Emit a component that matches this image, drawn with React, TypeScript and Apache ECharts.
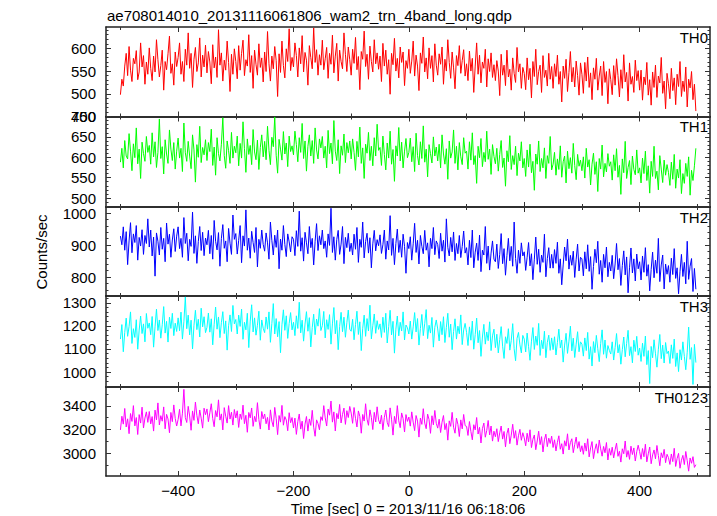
import React, { useEffect, useRef } from "react";
import * as echarts from "echarts";

// Time bins: start time and bin width (seconds)
const T0 = -500;
const STEP = 2.5;

const TH0 = [
  498, 532, 517, 561, 589, 540, 604, 552, 527, 578, 566, 595, 531, 548, 612, 559, 584, 521, 570, 543,
  601, 556, 529, 583, 548, 619, 575, 537, 562, 596, 508, 571, 553, 588, 627, 545, 566, 519, 592, 560,
  580, 612, 543, 571, 527, 598, 563, 634, 556, 589, 514, 576, 602, 549, 568, 623, 537, 585, 559, 607,
  546, 593, 570, 522, 608, 557, 581, 536, 641, 563, 590, 528, 574, 552, 616, 569, 505, 587, 543, 599,
  571, 533, 606, 552, 589, 618, 540, 575, 561, 630, 547, 584, 512, 596, 565, 541, 610, 558, 579, 526,
  592, 549, 637, 566, 528, 583, 555, 604, 573, 494, 588, 547, 616, 562, 535, 599, 571, 643, 551, 580,
  559, 612, 584, 537, 601, 566, 628, 548, 591, 574, 519, 606, 580, 555, 645, 569, 597, 541, 586, 563,
  618, 553, 577, 602, 534, 589, 565, 629, 546, 583, 611, 528, 596, 571, 555, 634, 587, 549, 603, 575,
  541, 598, 567, 624, 553, 582, 509, 593, 576, 638, 560, 587, 532, 605, 571, 548, 619, 566, 590, 554,
  583, 527, 611, 561, 596, 543, 575, 499, 589, 564, 622, 550, 578, 535, 603, 569, 592, 518, 573, 556,
  598, 545, 572, 616, 539, 585, 561, 507, 590, 567, 625, 548, 579, 533, 601, 556, 584, 526, 610, 563,
  541, 588, 565, 603, 521, 576, 550, 619, 569, 534, 592, 557, 511, 584, 562, 606, 545, 573, 597, 539,
  566, 529, 594, 550, 578, 503, 561, 612, 543, 585, 524, 570, 556, 598, 515, 577, 549, 590, 536, 564,
  529, 573, 550, 496, 587, 541, 563, 518, 596, 537, 554, 508, 579, 545, 525, 602, 548, 566, 512, 558,
  545, 509, 579, 531, 556, 491, 571, 538, 598, 520, 549, 563, 503, 584, 536, 552, 517, 589, 532, 560,
  512, 566, 538, 585, 521, 549, 482, 561, 534, 576, 505, 547, 593, 526, 558, 515, 572, 540, 497, 568,
  543, 501, 569, 528, 581, 514, 546, 487, 557, 532, 578, 508, 539, 561, 496, 571, 525, 549, 478, 555,
  531, 498, 562, 519, 577, 540, 493, 553, 512, 586, 526, 547, 484, 568, 521, 538, 503, 574, 529, 551,
  508, 552, 486, 537, 520, 569, 497, 531, 475, 548, 514, 563, 492, 539, 524, 580, 501, 528, 467, 545,
  522, 489, 556, 507, 535, 476, 543, 516, 571, 494, 528, 505, 559, 471, 532, 513, 549, 487, 521, 462,
];

const TH1 = [
  588, 622, 574, 641, 603, 596, 658, 615, 567, 633, 599, 672, 584, 620, 548, 637, 609, 590, 651, 612,
  629, 583, 660, 601, 638, 575, 612, 694, 597, 626, 559, 643, 608, 585, 667, 620, 592, 636, 571, 615,
  647, 598, 622, 565, 684, 611, 590, 639, 603, 572, 655, 618, 539, 631, 600, 676, 587, 624, 606, 643,
  592, 636, 614, 669, 580, 625, 556, 648, 609, 591, 632, 697, 604, 573, 640, 616, 585, 661, 598, 627,
  611, 652, 579, 634, 598, 687, 621, 563, 645, 607, 629, 582, 668, 613, 594, 642, 570, 624, 655, 601,
  639, 594, 676, 617, 582, 649, 626, 699, 605, 561, 644, 620, 593, 663, 608, 635, 577, 652, 614, 628,
  606, 664, 631, 589, 648, 612, 683, 597, 640, 566, 627, 655, 603, 641, 585, 672, 618, 596, 645, 623,
  651, 598, 627, 574, 666, 609, 635, 584, 690, 615, 592, 643, 560, 628, 605, 657, 587, 636, 611, 640,
  596, 645, 612, 568, 639, 601, 674, 585, 623, 548, 632, 610, 661, 592, 627, 579, 648, 603, 681, 617,
  624, 580, 652, 607, 569, 635, 598, 664, 583, 619, 541, 628, 603, 673, 591, 637, 574, 615, 646, 599,
  612, 647, 589, 626, 565, 659, 604, 581, 638, 597, 677, 588, 620, 552, 631, 609, 586, 650, 603, 625,
  591, 632, 574, 655, 608, 583, 621, 546, 640, 598, 613, 667, 585, 627, 569, 636, 601, 582, 648, 610,
  615, 571, 638, 593, 660, 582, 604, 536, 627, 599, 646, 577, 612, 589, 664, 595, 620, 558, 631, 602,
  584, 622, 566, 607, 641, 575, 598, 529, 616, 589, 653, 570, 604, 582, 627, 555, 610, 591, 638, 574,
  597, 553, 618, 576, 632, 562, 590, 519, 608, 583, 640, 565, 597, 574, 623, 548, 604, 585, 651, 569,
  583, 612, 556, 596, 570, 628, 551, 589, 603, 537, 615, 572, 599, 561, 634, 580, 545, 607, 578, 593,
  567, 601, 549, 622, 576, 594, 532, 583, 610, 558, 589, 516, 597, 571, 630, 552, 585, 564, 609, 578,
  589, 544, 606, 567, 621, 551, 580, 509, 596, 562, 639, 548, 575, 592, 533, 603, 570, 557, 618, 561,
  574, 537, 598, 560, 615, 543, 579, 512, 590, 553, 627, 548, 566, 520, 604, 571, 538, 593, 556, 582,
  563, 531, 588, 546, 607, 524, 571, 549, 594, 511, 560, 536, 585, 553, 601, 507, 568, 543, 579, 622,
];

const TH2 = [
  928, 901, 957, 884, 942, 839, 913, 970, 876, 935, 908, 961, 853, 924, 897, 948, 871, 930, 905, 982,
  894, 947, 866, 925, 803, 938, 912, 869, 955, 887, 921, 848, 969, 903, 934, 862, 916, 951, 880, 928,
  957, 889, 921, 862, 986, 905, 937, 851, 918, 896, 1003, 874, 929, 843, 911, 958, 883, 940, 867, 922,
  901, 946, 873, 930, 856, 977, 912, 885, 939, 834, 921, 964, 890, 913, 848, 952, 906, 871, 994, 918,
  936, 872, 915, 961, 845, 929, 897, 1010, 884, 922, 859, 943, 908, 877, 955, 832, 918, 890, 947, 902,
  881, 938, 907, 856, 972, 915, 869, 931, 893, 947, 826, 919, 884, 961, 902, 864, 935, 910, 879, 926,
  918, 867, 945, 896, 1006, 881, 923, 850, 940, 907, 873, 958, 892, 921, 838, 912, 967, 883, 929, 901,
  947, 889, 913, 862, 935, 899, 1015, 877, 926, 853, 917, 946, 871, 903, 958, 842, 924, 892, 937, 880,
  906, 869, 934, 887, 955, 846, 918, 893, 972, 860, 911, 937, 875, 923, 829, 904, 946, 882, 917, 898,
  932, 874, 901, 947, 856, 913, 885, 992, 868, 921, 839, 905, 950, 877, 915, 862, 934, 896, 812, 908,
  889, 926, 853, 904, 968, 877, 915, 841, 930, 896, 873, 946, 884, 907, 832, 921, 889, 955, 870, 913,
  902, 858, 937, 881, 915, 847, 982, 893, 866, 924, 879, 941, 852, 905, 873, 930, 861, 896, 944, 875,
  892, 838, 915, 861, 947, 829, 878, 906, 852, 931, 817, 884, 869, 958, 843, 897, 822, 875, 913, 856,
  848, 903, 827, 871, 936, 842, 889, 806, 867, 921, 851, 896, 834, 972, 858, 812, 884, 843, 907, 866,
  879, 821, 862, 908, 835, 873, 792, 856, 925, 840, 887, 815, 869, 846, 934, 801, 858, 892, 828, 871,
  828, 886, 843, 909, 812, 857, 776, 838, 894, 851, 919, 825, 868, 837, 881, 799, 856, 903, 819, 862,
  857, 804, 879, 826, 901, 818, 864, 762, 833, 887, 845, 912, 809, 852, 784, 871, 829, 894, 801, 846,
  819, 868, 795, 841, 905, 823, 858, 774, 836, 882, 807, 863, 751, 829, 891, 813, 857, 788, 872, 826,
  848, 791, 866, 815, 892, 803, 839, 757, 824, 878, 798, 853, 812, 921, 786, 838, 869, 763, 841, 809,
  836, 784, 859, 808, 889, 796, 829, 748, 817, 871, 802, 846, 779, 912, 793, 834, 858, 755, 827, 762,
];

const TH3 = [
  1143, 1206, 1088, 1172, 1234, 1155, 1197, 1261, 1124, 1188, 1150, 1227, 1099, 1182, 1243, 1167, 1209, 1131, 1254, 1190,
  1213, 1162, 1241, 1108, 1196, 1273, 1180, 1226, 1147, 1205, 1284, 1169, 1220, 1130, 1238, 1189, 1255, 1158, 1212, 1176,
  1235, 1179, 1260, 1143, 1218, 1326, 1188, 1247, 1161, 1225, 1100, 1203, 1268, 1184, 1229, 1152, 1277, 1196, 1240, 1171,
  1194, 1256, 1173, 1231, 1118, 1207, 1282, 1186, 1239, 1149, 1214, 1262, 1167, 1222, 1095, 1201, 1248, 1176, 1289, 1209,
  1228, 1165, 1247, 1198, 1273, 1142, 1216, 1183, 1255, 1106, 1221, 1292, 1174, 1235, 1160, 1203, 1264, 1138, 1226, 1190,
  1171, 1239, 1186, 1261, 1129, 1210, 1297, 1165, 1232, 1153, 1219, 1084, 1205, 1270, 1181, 1244, 1146, 1211, 1258, 1183,
  1216, 1158, 1244, 1189, 1303, 1170, 1225, 1134, 1208, 1262, 1177, 1236, 1109, 1193, 1251, 1162, 1230, 1199, 1275, 1180,
  1201, 1263, 1148, 1227, 1185, 1249, 1121, 1209, 1280, 1166, 1224, 1097, 1198, 1259, 1175, 1238, 1151, 1214, 1269, 1186,
  1177, 1229, 1140, 1206, 1264, 1163, 1218, 1093, 1190, 1247, 1155, 1232, 1178, 1290, 1144, 1201, 1252, 1168, 1223, 1185,
  1209, 1150, 1238, 1172, 1255, 1126, 1197, 1268, 1161, 1220, 1082, 1186, 1243, 1157, 1216, 1178, 1261, 1139, 1204, 1192,
  1165, 1221, 1143, 1196, 1258, 1174, 1232, 1117, 1189, 1250, 1158, 1210, 1271, 1145, 1203, 1169, 1237, 1108, 1194, 1226,
  1187, 1135, 1219, 1162, 1240, 1128, 1194, 1255, 1151, 1208, 1097, 1176, 1231, 1143, 1199, 1166, 1248, 1119, 1183, 1211,
  1172, 1115, 1196, 1138, 1221, 1099, 1163, 1234, 1127, 1180, 1068, 1152, 1207, 1121, 1174, 1136, 1218, 1093, 1157, 1186,
  1106, 1164, 1083, 1141, 1197, 1112, 1059, 1153, 1124, 1188, 1095, 1137, 1210, 1101, 1049, 1146, 1172, 1118, 1083, 1159,
  1143, 1087, 1169, 1110, 1051, 1134, 1193, 1098, 1156, 1116, 1211, 1072, 1138, 1101, 1177, 1062, 1129, 1160, 1094, 1148,
  1097, 1153, 1074, 1128, 1186, 1105, 1139, 1043, 1117, 1168, 1081, 1134, 1199, 1092, 1147, 1063, 1121, 1175, 1088, 1131,
  1121, 1069, 1148, 1093, 1172, 1056, 1110, 1026, 1132, 1084, 1159, 1101, 1045, 1124, 1183, 1077, 1139, 1060, 1115, 1094,
  1078, 1131, 1052, 1106, 1167, 1083, 1119, 1034, 1097, 1152, 1066, 1124, 1181, 1071, 1110, 1040, 1138, 1089, 1155, 1073,
  1104, 1046, 1125, 1068, 1156, 1032, 1093, 950, 1111, 1062, 1140, 1079, 1021, 1099, 1163, 1058, 1117, 1039, 1128, 1080,
  1091, 1037, 1118, 1059, 1143, 1024, 1083, 1002, 1097, 1052, 1131, 1068, 1010, 1086, 1195, 1055, 1106, 946, 1120, 1041,
];

const TH0123 = [
  3196, 3312, 3245, 3378, 3221, 3290, 3164, 3335, 3268, 3402, 3230, 3301, 3157, 3326, 3254, 3389, 3212, 3297, 3349, 3260,
  3352, 3247, 3309, 3186, 3364, 3281, 3425, 3238, 3317, 3270, 3391, 3205, 3328, 3289, 3172, 3344, 3266, 3408, 3293, 3229,
  3285, 3371, 3230, 3338, 3540, 3301, 3259, 3396, 3314, 3193, 3357, 3277, 3432, 3319, 3248, 3365, 3296, 3211, 3380, 3325,
  3374, 3266, 3341, 3418, 3292, 3223, 3360, 3307, 3451, 3279, 3332, 3196, 3385, 3312, 3254, 3402, 3288, 3346, 3237, 3369,
  3297, 3358, 3217, 3331, 3285, 3406, 3249, 3320, 3176, 3344, 3298, 3382, 3226, 3311, 3265, 3427, 3284, 3203, 3352, 3290,
  3331, 3248, 3302, 3195, 3366, 3271, 3223, 3387, 3295, 3156, 3318, 3262, 3404, 3236, 3309, 3280, 3189, 3342, 3257, 3301,
  3212, 3296, 3158, 3267, 3331, 3203, 3270, 3123, 3245, 3310, 3186, 3289, 3234, 3362, 3219, 3142, 3281, 3250, 3197, 3308,
  3276, 3402, 3298, 3229, 3373, 3321, 3441, 3262, 3349, 3187, 3336, 3290, 3412, 3255, 3328, 3381, 3243, 3359, 3301, 3395,
  3339, 3252, 3386, 3294, 3221, 3357, 3310, 3168, 3327, 3271, 3418, 3287, 3235, 3366, 3302, 3199, 3345, 3263, 3392, 3281,
  3246, 3321, 3197, 3302, 3365, 3260, 3224, 3383, 3287, 3152, 3311, 3249, 3402, 3273, 3215, 3340, 3292, 3178, 3326, 3268,
  3305, 3228, 3349, 3262, 3190, 3318, 3271, 3135, 3297, 3243, 3376, 3254, 3206, 3330, 3284, 3167, 3316, 3239, 3361, 3252,
  3211, 3287, 3174, 3262, 3318, 3198, 3251, 3109, 3273, 3226, 3345, 3219, 3168, 3296, 3243, 3140, 3281, 3205, 3327, 3232,
  3226, 3149, 3267, 3183, 3112, 3240, 3196, 3301, 3161, 3218, 3085, 3207, 3254, 3134, 3191, 3276, 3153, 3229, 3101, 3185,
  3138, 3206, 3097, 3171, 3229, 3118, 3183, 3052, 3164, 3212, 3079, 3152, 3244, 3125, 3190, 3067, 3146, 3201, 3108, 3172,
  3129, 3061, 3168, 3094, 3197, 3046, 3117, 3153, 3028, 3102, 3185, 3071, 3139, 3009, 3112, 3160, 3054, 3126, 3081, 3143,
  3047, 3112, 3018, 3091, 3146, 3032, 3079, 2991, 3104, 3058, 3163, 3026, 3088, 3121, 3003, 3073, 3135, 3040, 3097, 3011,
  3062, 2989, 3085, 3016, 3121, 2967, 3043, 3097, 2952, 3029, 3078, 2998, 3110, 3035, 2973, 3056, 3002, 3089, 2941, 3038,
  2981, 3049, 2958, 3027, 3084, 2972, 3015, 2923, 3036, 2994, 3102, 2965, 3021, 2946, 3058, 2987, 3043, 2932, 3011, 3066,
  3012, 2947, 3038, 2968, 3075, 2925, 2993, 3051, 2909, 2984, 3026, 2951, 3064, 2978, 2892, 3002, 2960, 3031, 2918, 2989,
  2961, 2903, 2992, 2927, 3040, 2886, 2954, 2997, 2871, 2939, 2980, 2902, 3013, 2935, 2846, 2958, 2913, 2969, 2878, 2901,
];

const PANEL_NAMES = ["TH0", "TH1", "TH2", "TH3", "TH0123"];
const PANEL_DATA = [TH0, TH1, TH2, TH3, TH0123];
const PANEL_COLORS = ["#ff0000", "#00ff00", "#0000ff", "#00ffff", "#ff00ff"];
const Y_MIN = [450, 478, 741, 935, 2805];
const Y_MAX = [647, 700, 1019, 1330, 3560];
const Y_MAJOR = [50, 50, 100, 100, 200];
const Y_MINOR = [10, 10, 20, 20, 100];

const X_MIN = -525;
const X_MAX = 522;
const X_MAJOR_TICKS = [-400, -200, 0, 200, 400];
const X_MINOR_TICKS = [-500, -300, -100, 100, 300, 500];

const TITLE = "ae708014010_20131116061806_wam2_trn_4band_long.qdp";
const X_NAME = "Time [sec] 0 = 2013/11/16 06:18:06";
const Y_NAME = "Counts/sec";

const FONT = '"Liberation Sans", Arial, Helvetica, sans-serif';

const GRID_TOPS = [27, 116.5, 207, 296, 387];
const GRID_BOTTOMS = [116.5, 207, 296, 387, 476];
const GRID_LEFT = 106;
const GRID_RIGHT_X = 710;

function ticksBetween(min: number, max: number, step: number): number[] {
  const out: number[] = [];
  for (let v = Math.ceil(min / step) * step; v <= max + 1e-9; v += step) out.push(v);
  return out;
}

const fmt = (v: number) => (v < 0 ? "\u2212" + Math.abs(v) : String(v));

export default function App() {
  const ref = useRef<HTMLDivElement>(null);

  useEffect(() => {
    if (!ref.current) return;
    const chart = echarts.init(ref.current, null, { renderer: "svg" });

    const grids: any[] = [];
    const xAxes: any[] = [];
    const yAxes: any[] = [];
    const series: any[] = [];
    const graphics: any[] = [];
    const lineStyle = { color: "#222", width: 1.5 };
    const tickStyle = { color: "#333", width: 1 };

    PANEL_NAMES.forEach((name, i) => {
      grids.push({
        left: GRID_LEFT,
        top: GRID_TOPS[i],
        width: GRID_RIGHT_X - GRID_LEFT,
        height: GRID_BOTTOMS[i] - GRID_TOPS[i],
        containLabel: false,
      });
      const isLast = i === PANEL_NAMES.length - 1;
      const xBase = {
        type: "value",
        gridIndex: i,
        min: X_MIN,
        max: X_MAX,
        splitLine: { show: false },
      };
      xAxes.push({
        ...xBase,
        position: "bottom",
        axisLine: { show: true, onZero: false, lineStyle },
        axisTick: { show: true, inside: true, length: 5, lineStyle: tickStyle, customValues: X_MAJOR_TICKS },
        axisLabel: {
          show: isLast,
          customValues: X_MAJOR_TICKS,
          formatter: fmt,
          fontSize: 15,
          color: "#000",
          fontFamily: FONT,
          margin: 7,
        },
      });
      xAxes.push({
        ...xBase,
        position: "bottom",
        axisLine: { show: false, onZero: false },
        axisTick: { show: true, inside: true, length: 3, lineStyle: tickStyle, customValues: X_MINOR_TICKS },
        axisLabel: { show: false },
      });
      xAxes.push({
        ...xBase,
        position: "top",
        axisLine: { show: true, onZero: false, lineStyle },
        axisTick: { show: true, inside: true, length: 5, lineStyle: tickStyle, customValues: X_MAJOR_TICKS },
        axisLabel: { show: false },
      });
      xAxes.push({
        ...xBase,
        position: "top",
        axisLine: { show: false, onZero: false },
        axisTick: { show: true, inside: true, length: 3, lineStyle: tickStyle, customValues: X_MINOR_TICKS },
        axisLabel: { show: false },
      });

      const majors = ticksBetween(Y_MIN[i], Y_MAX[i], Y_MAJOR[i]);
      const minors = ticksBetween(Y_MIN[i], Y_MAX[i], Y_MINOR[i]).filter((v) => v % Y_MAJOR[i] !== 0);
      const yBase = {
        type: "value",
        gridIndex: i,
        min: Y_MIN[i],
        max: Y_MAX[i],
        splitLine: { show: false },
      };
      yAxes.push({
        ...yBase,
        position: "left",
        axisLine: { show: true, onZero: false, lineStyle },
        axisTick: { show: true, inside: true, length: 5, lineStyle: tickStyle, customValues: majors },
        axisLabel: {
          show: true,
          customValues: majors,
          formatter: (v: number) => String(v),
          fontSize: 15,
          color: "#000",
          fontFamily: FONT,
          margin: 10,
        },
      });
      yAxes.push({
        ...yBase,
        position: "left",
        axisLine: { show: false, onZero: false },
        axisTick: { show: true, inside: true, length: 2.5, lineStyle: tickStyle, customValues: minors },
        axisLabel: { show: false },
      });
      yAxes.push({
        ...yBase,
        position: "right",
        axisLine: { show: true, onZero: false, lineStyle },
        axisTick: { show: true, inside: true, length: 5, lineStyle: tickStyle, customValues: majors },
        axisLabel: { show: false },
      });
      yAxes.push({
        ...yBase,
        position: "right",
        axisLine: { show: false, onZero: false },
        axisTick: { show: true, inside: true, length: 2.5, lineStyle: tickStyle, customValues: minors },
        axisLabel: { show: false },
      });

      series.push({
        type: "line",
        name,
        xAxisIndex: i * 4,
        yAxisIndex: i * 4,
        data: PANEL_DATA[i].map((v, k) => [T0 + k * STEP, v]),
        showSymbol: false,
        symbol: "none",
        clip: true,
        lineStyle: { color: PANEL_COLORS[i], width: 1 },
        itemStyle: { color: PANEL_COLORS[i] },
        z: 1,
      });

      graphics.push({
        type: "text",
        x: 708,
        y: GRID_TOPS[i] + 10,
        style: {
          text: name,
          fill: "#000",
          font: `15px ${FONT}`,
          textAlign: "right",
          textVerticalAlign: "middle",
        },
      });
    });

    graphics.push({
      type: "text",
      x: 107,
      y: 15,
      style: { text: TITLE, fill: "#000", font: `15px ${FONT}`, textAlign: "left", textVerticalAlign: "middle" },
    });
    graphics.push({
      type: "text",
      x: 408,
      y: 508,
      style: { text: X_NAME, fill: "#000", font: `15px ${FONT}`, textAlign: "center", textVerticalAlign: "middle" },
    });
    graphics.push({
      type: "text",
      x: 41,
      y: 252,
      rotation: Math.PI / 2,
      style: { text: Y_NAME, fill: "#000", font: `15px ${FONT}`, textAlign: "center", textVerticalAlign: "middle" },
    });

    chart.setOption({
      animation: false,
      backgroundColor: "#ffffff",
      grid: grids,
      xAxis: xAxes,
      yAxis: yAxes,
      series,
      graphic: graphics,
    });

    return () => chart.dispose();
  }, []);

  return (
    <div
      ref={ref}
      style={{ position: "absolute", left: 0, top: 0, width: 717, height: 516 }}
    />
  );
}
